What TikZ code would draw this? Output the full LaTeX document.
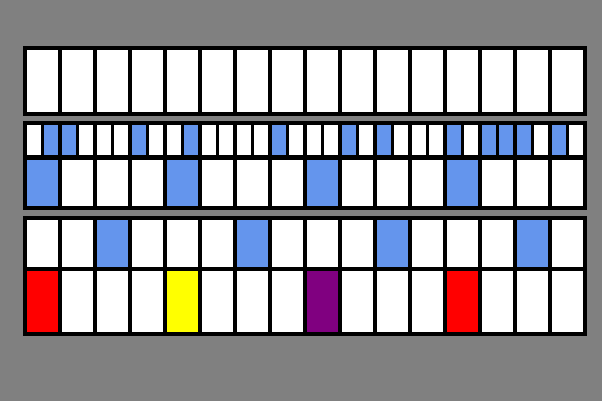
\documentclass[tikz,border=0pt]{standalone}
\definecolor{bg}{HTML}{808080}
\definecolor{cblue}{HTML}{6495ED}
\definecolor{cred}{HTML}{FF0000}
\definecolor{cyellow}{HTML}{FFFF00}
\definecolor{cpurple}{HTML}{800080}
\begin{document}
\begin{tikzpicture}[x=1pt,y=-1pt,
  cell/.style={draw=black,line width=3.3pt,fill=white},
  band/.style={draw=black,line width=3.6pt}]
\useasboundingbox (0,0) rectangle (602,401);
\fill[bg] (0,0) rectangle (602,401);
% band 1
\foreach \i in {0,...,15} \draw[cell] (25+35*\i,48) rectangle ++(35,66);
\draw[band] (25,48) rectangle (585,114);
% band 2 small row
\foreach \i in {0,...,31} \draw[cell] (25+17.5*\i,123) rectangle ++(17.5,34);
\foreach \i in {1,2,6,9,14,18,20,24,26,27,28,30} \draw[cell,fill=cblue] (25+17.5*\i,123) rectangle ++(17.5,34);
% band 2 big row
\foreach \i in {0,...,15} \draw[cell] (25+35*\i,157) rectangle ++(35,51);
\foreach \i in {0,4,8,12} \draw[cell,fill=cblue] (25+35*\i,157) rectangle ++(35,51);
\draw[black,line width=5pt] (25,157) -- (585,157);
\draw[band] (25,123) rectangle (585,208);
% band 3 top row
\foreach \i in {0,...,15} \draw[cell] (25+35*\i,218) rectangle ++(35,51);
\foreach \i in {2,6,10,14} \draw[cell,fill=cblue] (25+35*\i,218) rectangle ++(35,51);
% band 3 bottom row
\foreach \i in {0,...,15} \draw[cell] (25+35*\i,269) rectangle ++(35,65);
\foreach \i/\c in {0/cred,4/cyellow,8/cpurple,12/cred} \draw[cell,fill=\c] (25+35*\i,269) rectangle ++(35,65);
\draw[band] (25,218) rectangle (585,334);
\end{tikzpicture}
\end{document}
